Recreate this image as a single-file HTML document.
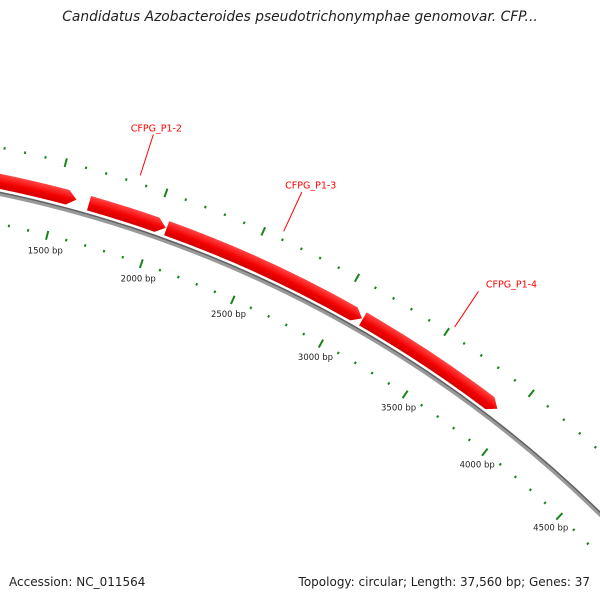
<!DOCTYPE html>
<html><head><meta charset="utf-8"><style>
html,body{margin:0;padding:0;background:#fff;width:600px;height:600px;overflow:hidden;}
#wrap{position:relative;width:600px;height:600px;overflow:hidden;font-family:"DejaVu Sans","Liberation Sans",sans-serif;}
.title{position:absolute;top:8px;left:0;width:600px;text-align:center;font-size:13.8px;font-style:italic;color:#222;line-height:18px;}
.foot{position:absolute;top:574px;font-size:12px;color:#222;line-height:16px;}
</style></head><body>
<div id="wrap">
<div class="title">Candidatus Azobacteroides pseudotrichonymphae genomovar. CFP...</div>
<svg id="map" width="600" height="600" style="position:absolute;left:0;top:0;overflow:hidden">
<defs>
<radialGradient id="redg" gradientUnits="userSpaceOnUse" cx="-245" cy="1375" r="1227">
<stop offset="0.985" stop-color="#c80000"/>
<stop offset="0.992" stop-color="#f00000"/>
<stop offset="0.997" stop-color="#ff3030"/>
<stop offset="1" stop-color="#ff5050"/>
</radialGradient>
</defs>
</svg>
<div class="foot" style="left:9px">Accession: NC_011564</div>
<div class="foot" style="right:10px">Topology: circular; Length: 37,560 bp; Genes: 37</div>
</div>
<script>
const genomeLength = 37560;
const geneNames = ["CFPG_P1-1","CFPG_P1-2","CFPG_P1-3","CFPG_P1-4"];
const geneStarts = [700, 1660, 2060, 3122];
const geneEnds = [1596, 2055, 3117, 3916];
const geneLabeled = [false, true, true, true];
const tickLabels = [1500, 2000, 2500, 3000, 3500, 4000, 4500];
const labelOffX = [0, 3, 9, 33];
const labelOffY = [0, -6, -7, -7];

const CX = -245, CY = 1375;
const svg = document.getElementById('map');
const NS = 'http://www.w3.org/2000/svg';
function ang(bp){ return bp / genomeLength * 2 * Math.PI; }
function pt(bp, r){ const a = ang(bp); return [CX + r*Math.sin(a), CY - r*Math.cos(a)]; }
function mk(tag, attrs){ const e = document.createElementNS(NS, tag); for (const k in attrs) e.setAttribute(k, attrs[k]); svg.appendChild(e); return e; }

const bb2 = mk('path', {d:`M${pt(-2000,1207.5)[0]},${pt(-2000,1207.5)[1]} A1207.5 1207.5 0 0 1 ${pt(9000,1207.5)[0]},${pt(9000,1207.5)[1]}`, fill:'none', stroke:'#606060', 'stroke-width':2});


const bb = mk('path', {d:`M${pt(-2000,1205.5)[0]},${pt(-2000,1205.5)[1]} A1205.5 1205.5 0 0 1 ${pt(9000,1205.5)[0]},${pt(9000,1205.5)[1]}`, fill:'none', stroke:'#999', 'stroke-width':3});



for (let bp = 0; bp <= 7000; bp += 100) {
  const major = bp % 500 === 0;
  const rings = major ? [[1247,1256],[1172,1181]] : [[1250.5,1253],[1175.5,1178]];
  rings.forEach((rg, i) => {
    const p = pt(bp, rg[0]), q = pt(bp, rg[1]);
    const t = mk('line', {x1:p[0], y1:p[1], x2:q[0], y2:q[1], stroke:'#1a841a', 'stroke-width':2});
    
    
  });
}
tickLabels.forEach(bp => {
  const p = pt(bp, 1161);
  const t = mk('text', {x:p[0]+2, y:p[1]+3, 'text-anchor':'middle', 'font-size':'8.5', fill:'#222', 'font-family':'DejaVu Sans, Liberation Sans, sans-serif'});
  t.textContent = bp + ' bp';
  
  
});

const rIn = 1211, rOut = 1226, rMid = 1218.5, head = 45;
geneNames.forEach((name, i) => {
  const s = geneStarts[i], e = geneEnds[i], h = e - head;
  const a = pt(s, rOut), b = pt(h, rOut), tip = pt(e, rMid), c = pt(h, rIn), d = pt(s, rIn);
  const g = mk('path', {d:`M${a[0]},${a[1]} A${rOut} ${rOut} 0 0 1 ${b[0]},${b[1]} L${tip[0]},${tip[1]} L${c[0]},${c[1]} A${rIn} ${rIn} 0 0 0 ${d[0]},${d[1]} Z`, fill:'url(#redg)'});
  
  
  if (geneLabeled[i]) {
    const m = (s + e) / 2;
    const p = pt(m, 1260), q = pt(m, 1303);
    const l = mk('line', {x1:p[0], y1:p[1], x2:q[0], y2:q[1], stroke:'#ff0000', 'stroke-width':1});
    
    
    const t = mk('text', {x:q[0]+labelOffX[i], y:q[1]+labelOffY[i]+3, 'text-anchor':'middle', 'font-size':'9.5', fill:'#ff0000', 'font-family':'DejaVu Sans, Liberation Sans, sans-serif'});
    t.textContent = name;
    
    
  }
});
</script>
</body></html>
